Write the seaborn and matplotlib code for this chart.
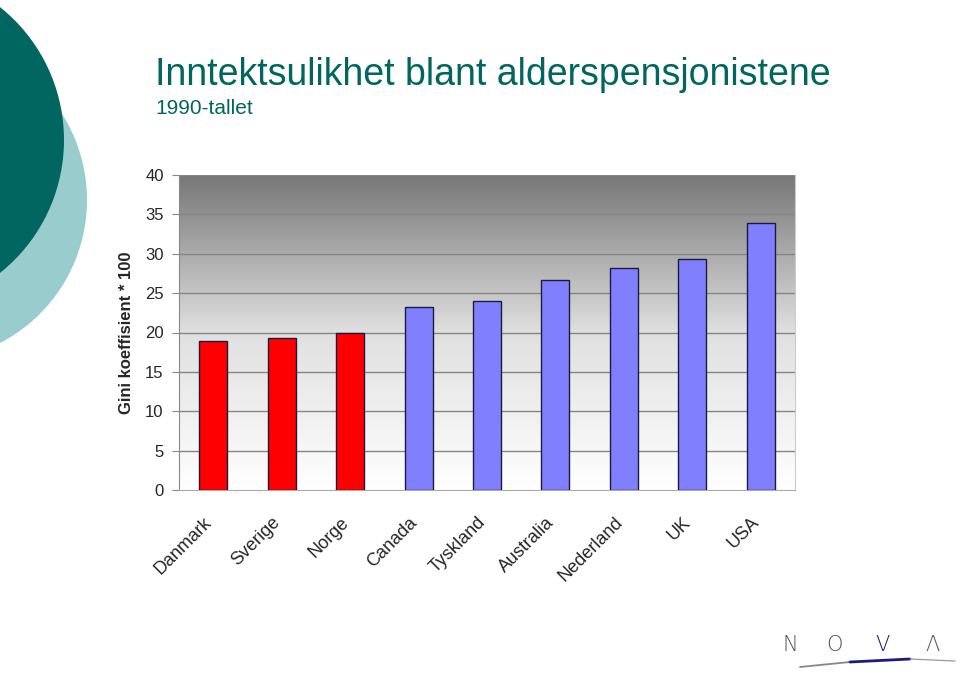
# Gini coefficient among old-age pensioners, 1990s
import numpy as np
import pandas as pd
import matplotlib
matplotlib.use("Agg")
import matplotlib.pyplot as plt
import seaborn as sns
from matplotlib.patches import Circle
from matplotlib.transforms import ScaledTranslation

# data
countries = ["Danmark", "Sverige", "Norge", "Canada", "Tyskland",
             "Australia", "Nederland", "UK", "USA"]
gini = [18.9, 19.3, 19.9, 23.3, 24.0, 26.7, 28.2, 29.3, 33.9]
group = ["Norden", "Norden", "Norden", "Andre", "Andre",
         "Andre", "Andre", "Andre", "Andre"]
yticks = [0, 5, 10, 15, 20, 25, 30, 35, 40]

df = pd.DataFrame({"land": countries, "gini": gini, "gruppe": group})

sns.set_style("white")
plt.rcParams["font.family"] = ["Liberation Sans", "DejaVu Sans"]

teal = "#00665f"
fig = plt.figure(figsize=(9.6, 6.73), dpi=100)

# background decoration in pixel coordinates
bg = fig.add_axes([0, 0, 1, 1], zorder=0)
bg.set_xlim(0, 960)
bg.set_ylim(673, 0)
bg.axis("off")
bg.add_patch(Circle((-74, 200), 161, color="#99cccc", lw=0))
bg.add_patch(Circle((-106, 140), 170, color=teal, lw=0))

# NOVA logo
for letter, x, c in [("N", 790, "#555555"), ("O", 835, "#555555"),
                     ("V", 882, "#1a1a80"), ("Λ", 932, "#555555")]:
    bg.text(x, 645, letter, ha="center", va="center", fontsize=15,
            color=c, family=["DejaVu Sans"], fontweight="light")
bg.plot([800, 850], [667, 662], color="#888888", lw=1.3, solid_capstyle="round")
bg.plot([850, 910], [662, 659], color="#1a1a80", lw=2.0, solid_capstyle="round")
bg.plot([910, 955], [659, 661], color="#999999", lw=0.9, solid_capstyle="round")

# titles
fig.text(155 / 960, 1 - 75 / 673, "Inntektsulikhet blant alderspensjonistene",
         fontsize=27, color=teal, va="center", ha="left")
fig.text(155 / 960, 1 - 108 / 673, "1990-tallet", fontsize=15, color=teal,
         va="center", ha="left")

ax = fig.add_axes([179 / 960, 1 - 490 / 673, (795 - 179) / 960, (490 - 175) / 673],
                  zorder=1)

# gray gradient plot area
grad = np.linspace(0, 1, 256).reshape(-1, 1)
cmap = matplotlib.colors.LinearSegmentedColormap.from_list(
    "g", ["#ffffff", "#e0e0e0", "#777777"])
ax.imshow(grad, cmap=cmap, aspect="auto", origin="lower",
          extent=[-0.5, len(countries) - 0.5, 0, 40], zorder=0)

sns.barplot(data=df, x="land", y="gini", hue="gruppe",
            palette={"Norden": "#ff0000", "Andre": "#8080ff"}, saturation=1,
            dodge=False, width=0.41, edgecolor="#1a1a40", linewidth=1,
            legend=False, ax=ax, zorder=3)

ax.set_xlim(-0.5, len(countries) - 0.5)
ax.set_ylim(0, 40)
ax.set_yticks(yticks)
ax.set_yticklabels([str(t) for t in yticks], fontsize=12)
for t in yticks[1:]:
    ax.axhline(t, color="#858585", lw=1, zorder=1)

# category labels, rotated, ending just left of each bar centre
ax.set_xticks(np.arange(len(countries) + 1) - 0.5, minor=True)
ax.set_xticks(range(len(countries)))
ax.set_xticklabels([])
shift = ScaledTranslation(-10 / 100, -24 / 100, fig.dpi_scale_trans)
for i, name in enumerate(countries):
    ax.text(i, 0, name, transform=ax.get_xaxis_transform() + shift,
            fontsize=13, rotation=45, ha="right", va="top",
            rotation_mode="anchor")
ax.tick_params(axis="x", which="major", length=0)
ax.tick_params(axis="x", which="minor", length=5, color="#aaaaaa", direction="out")
ax.tick_params(axis="y", length=5, color="#888888", direction="out", left=True, pad=6)

ax.set_xlabel("")
ax.set_ylabel("Gini koeffisient * 100", fontsize=12, fontweight="bold", labelpad=8)

ax.spines["top"].set_visible(False)
ax.spines["left"].set_color("#888888")
ax.spines["bottom"].set_color("#aaaaaa")
ax.spines["right"].set_color("#cccccc")

fig.savefig("out.png", dpi=100)
